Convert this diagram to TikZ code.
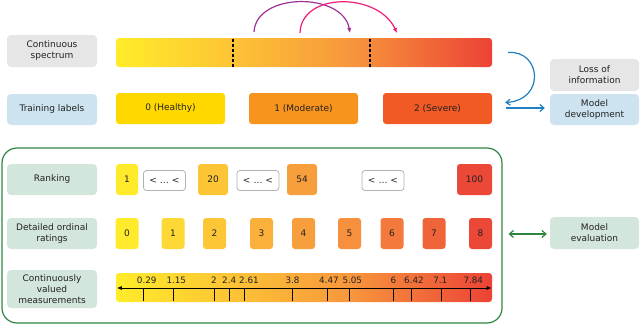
\documentclass[tikz,border=0pt]{standalone}
\usepackage{fontspec}
\setmainfont{DejaVu Sans}
\usetikzlibrary{arrows.meta,calc}
\definecolor{txt}{HTML}{222222}
\definecolor{labgray}{HTML}{E6E6E6}
\definecolor{labblue}{HTML}{CDE3EF}
\definecolor{labgreen}{HTML}{D3E6DC}
\definecolor{grline}{HTML}{2E8540}
\definecolor{blline}{HTML}{1F7FC0}
\definecolor{purp}{HTML}{9C3296}
\definecolor{pink}{HTML}{EC1E79}
\definecolor{healthy}{HTML}{FFD800}
\definecolor{moderate}{HTML}{F7941E}
\definecolor{severe}{HTML}{F15A25}
\definecolor{gA}{HTML}{FFEC2A}
\definecolor{gB}{HTML}{FDC535}
\definecolor{gC}{HTML}{F7973C}
\definecolor{gD}{HTML}{EC4236}
\definecolor{o0}{HTML}{FFEA2C}
\definecolor{o1}{HTML}{FED936}
\definecolor{o2}{HTML}{FDC637}
\definecolor{o3}{HTML}{FAB03B}
\definecolor{o4}{HTML}{F89F3D}
\definecolor{o5}{HTML}{F6903C}
\definecolor{o6}{HTML}{F37A3C}
\definecolor{o7}{HTML}{F0643A}
\definecolor{o8}{HTML}{EC4838}
\pgfdeclarehorizontalshading{specshade}{100bp}{color(0bp)=(gA); color(25bp)=(gA); color(40bp)=(gB); color(56bp)=(gC); color(75bp)=(gD); color(100bp)=(gD)}
\begin{document}
\begin{tikzpicture}[x=1pt,y=-1pt,
  every node/.style={font=\fontsize{9}{11}\selectfont, text=txt, inner sep=0pt},
  lab/.style={rounded corners=4pt, minimum width=90pt, align=center},
  gbox/.style={rounded corners=3pt, minimum height=31pt},
  rbox/.style={rounded corners=3pt, minimum height=31pt, minimum width=22pt},
  obox/.style={rounded corners=3pt, minimum height=31pt, minimum width=23pt},
  dotbox/.style={draw=black!30, line width=0.8pt, fill=white, rounded corners=3pt, minimum width=42pt, minimum height=20pt},
  bar/.style={rounded corners=3pt, shading=specshade, minimum width=376pt, minimum height=29pt},
  tlab/.style={font=\fontsize{8.8}{10}\selectfont}
]
\useasboundingbox (0,0) rectangle (640,325);

% left labels
\node[lab, fill=labgray, minimum height=32pt] (cs) at (52,51) {Continuous\\spectrum};
\node[lab, fill=labblue, minimum height=31pt] (tl) at (52,109.5) {Training labels};
\node[lab, fill=labgreen, minimum height=31pt] (rk) at (52,179.5) {Ranking};
\node[lab, fill=labgreen, minimum height=31pt] (dor) at (52,233.5) {Detailed ordinal\\ratings};
\node[lab, fill=labgreen, minimum height=38pt] (cvm) at (52,289) {Continuously\\valued\\measurements};

% spectrum bar
\node[bar] (spec) at (304,52.5) {};
\draw[line width=1.1pt, dash pattern=on 3pt off 2pt] (233,38.5) -- (233,66.5);
\draw[line width=1.1pt, dash pattern=on 3pt off 2pt] (370,38.5) -- (370,66.5);

% top arcs
\coordinate (pa) at (254,32);
\coordinate (pb) at (350,33);
\coordinate (qa) at (300,33);
\coordinate (qb) at (397,33);
\draw[purp, line width=1.2pt, -{Latex[length=5pt,width=4.5pt]}] (pa) .. controls (256,-8) and (343,-8) .. (pb);
\draw[pink, line width=1.2pt, -{Latex[length=5pt,width=4.5pt]}] (qa) .. controls (301,-8) and (378,-8) .. (qb);

% training labels
\node[gbox, fill=healthy, minimum width=109pt] (h0) at (170.5,108.5) {0 (Healthy)};
\node[gbox, fill=moderate, minimum width=109pt] (h1) at (303.5,108.5) {1 (Moderate)};
\node[gbox, fill=severe, minimum width=109pt] (h2) at (437.5,108.5) {2 (Severe)};

% right boxes
\node[lab, fill=labgray, minimum width=89pt, minimum height=32pt] (loss) at (594.5,75) {Loss of\\information};
\node[lab, fill=labblue, minimum width=89pt, minimum height=31pt] (dev) at (594.5,109.5) {Model\\development};
\node[lab, fill=labgreen, minimum width=89pt, minimum height=32pt] (eval) at (594.5,233) {Model\\evaluation};

% blue arrows
\draw[blline, line width=1.2pt, -{Straight Barb[length=4pt,width=6pt]}] ([xshift=16pt]spec.east) .. controls (541,50) and (546,100) .. ([xshift=13pt,yshift=6pt]h2.east);
\draw[blline, line width=1.2pt, -{Straight Barb[length=4pt,width=7pt]}] ([xshift=14pt,yshift=0.5pt]h2.east) -- ([xshift=-5pt,yshift=1.5pt]dev.west);

% green group
\node[draw=grline, line width=1.2pt, rounded corners=15pt, minimum width=500pt, minimum height=175pt] (grp) at (252,235.5) {};
\draw[grline, line width=1.2pt, {Straight Barb[length=4pt,width=7pt]}-{Straight Barb[length=4pt,width=7pt]}] ([xshift=6pt,yshift=-1pt]grp.east |- eval.west) -- ([xshift=-3pt,yshift=-1pt]eval.west);

% ranking
\node[rbox, fill=o0] (r1) at (127,179.5) {1};
\node[dotbox] (d1) at (164.5,180.5) {<\,\,…\,\,<};
\node[rbox, fill=gB, minimum width=30pt] (r20) at (213,179.5) {20};
\node[dotbox] (d2) at (258,180.5) {<\,\,…\,\,<};
\node[rbox, fill=o4, minimum width=30pt] (r54) at (302,179.5) {54};
\node[dotbox] (d3) at (383,180.5) {<\,\,…\,\,<};
\node[rbox, fill=o8, minimum width=35pt] (r100) at (474.5,179.5) {100};

% ordinal
\node[obox, fill=o0] (n0) at (127,233.5) {0};
\node[obox, fill=o1] (n1) at (173,233.5) {1};
\node[obox, fill=o2] (n2) at (214.5,233.5) {2};
\node[obox, fill=o3] (n3) at (261.5,233.5) {3};
\node[obox, fill=o4] (n4) at (303.5,233.5) {4};
\node[obox, fill=o5] (n5) at (349.5,233.5) {5};
\node[obox, fill=o6] (n6) at (392,233.5) {6};
\node[obox, fill=o7] (n7) at (434,233.5) {7};
\node[obox, fill=o8] (n8) at (480.5,233.5) {8};

% measurement bar
\node[bar] (mbar) at (304,287.5) {};
\draw[line width=1pt, {Latex[length=5pt,width=4pt]}-{Latex[length=5pt,width=4pt]}] ([xshift=1pt,yshift=-0.5pt]mbar.west) -- ([xshift=-0.5pt,yshift=-0.5pt]mbar.east);
\foreach \x/\c/\l [count=\i] in {143.3/146.7/0.29, 173.3/176.3/1.15, 214.3/214/2, 229.3/229.2/2.4, 244.7/249/2.61, 292.3/292.5/3.8, 327/329/4.47, 349.7/352.3/5.05, 393.7/393.5/6, 411.3/414/6.42, 441/440.3/7.1, 470.3/473.3/7.84}{
  \draw[line width=1pt] (\x,288) -- (\x,300.5);
  \node[tlab] (tk\i) at (\c,280) {\l};
}
\end{tikzpicture}
\end{document}
